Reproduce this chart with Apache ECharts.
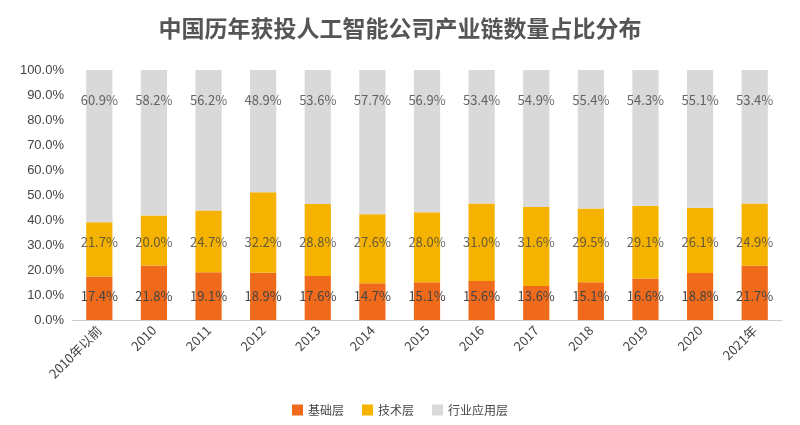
<!DOCTYPE html>
<html><head><meta charset="utf-8">
<script src="https://cdn.jsdelivr.net/npm/echarts@6/dist/echarts.min.js"></script>
<style>html,body{margin:0;padding:0;background:#fff}#c{width:800px;height:425px}</style>
</head><body><div id="c"></div>
<script>
const categories=['2010年以前','2010','2011','2012','2013','2014','2015','2016','2017','2018','2019','2020','2021年'];
const base=[17.4,21.8,19.1,18.9,17.6,14.7,15.1,15.6,13.6,15.1,16.6,18.8,21.7];
const tech=[21.7,20.0,24.7,32.2,28.8,27.6,28.0,31.0,31.6,29.5,29.1,26.1,24.9];
const app=[60.9,58.2,56.2,48.9,53.6,57.7,56.9,53.4,54.9,55.4,54.3,55.1,53.4];
const techLabelRow=31, appLabelRow=88;
const lbl={color:'#444',fontSize:13,fontFamily:'Noto Sans CJK SC'};
const fmt=v=>v.toFixed(1)+'%';
const chart=echarts.init(document.getElementById('c'));
chart.setOption({
  animation:false,
  title:{text:'中国历年获投人工智能公司产业链数量占比分布',left:'center',top:12,textStyle:{fontSize:23,fontWeight:'bold',color:'#555',fontFamily:'Noto Sans CJK SC'}},
  grid:{left:72,right:18,top:70,bottom:105},
  legend:{bottom:4,itemWidth:11,itemHeight:11,icon:'rect',itemGap:18,textStyle:{color:'#444',fontSize:12,fontFamily:'Noto Sans CJK SC'},data:['基础层','技术层','行业应用层']},
  xAxis:{type:'category',data:categories,axisTick:{show:false},axisLine:{lineStyle:{color:'#ccc'}},
    axisLabel:{rotate:45,color:'#444',fontSize:13,interval:0,fontFamily:'Noto Sans CJK SC'}},
  yAxis:{type:'value',min:0,max:100,interval:10,axisLabel:{formatter:v=>v.toFixed(1)+'%',color:'#444',fontSize:13},
    splitLine:{show:false},axisLine:{show:false}},
  series:[
    {name:'基础层',type:'bar',stack:'a',barWidth:'48%',data:base,itemStyle:{color:'#F06A1C'},
     label:{show:true,position:'insideBottom',distance:17,...lbl,formatter:p=>fmt(p.value)}},
    {name:'技术层',type:'bar',stack:'a',data:tech,itemStyle:{color:'#F5B300'}},
    {name:'行业应用层',type:'bar',stack:'a',data:app,itemStyle:{color:'#D9D9D9'}},
    {type:'scatter',symbolSize:0,silent:true,data:tech.map(()=>techLabelRow),
     label:{show:true,position:'inside',...lbl,formatter:p=>fmt(tech[p.dataIndex])},z:5},
    {type:'scatter',symbolSize:0,silent:true,data:app.map(()=>appLabelRow),
     label:{show:true,position:'inside',...lbl,formatter:p=>fmt(app[p.dataIndex])},z:5}
  ]
});
</script></body></html>
